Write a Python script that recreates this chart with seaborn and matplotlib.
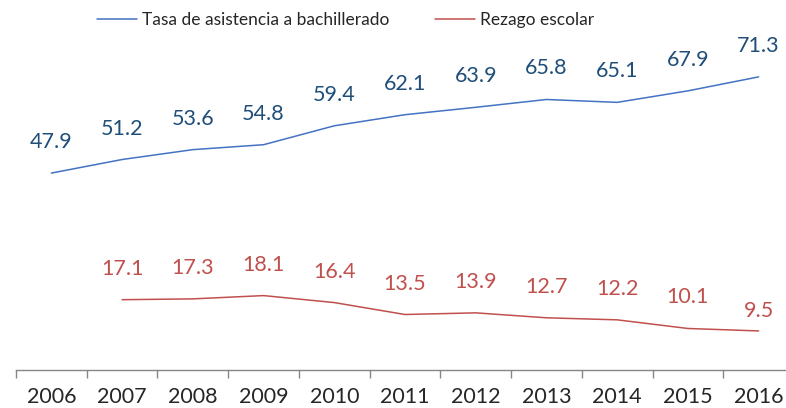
import numpy as np
import pandas as pd
import matplotlib
matplotlib.use('Agg')
import matplotlib.pyplot as plt
import seaborn as sns

years = ['2006', '2007', '2008', '2009', '2010', '2011', '2012', '2013', '2014', '2015', '2016']
asistencia = [47.9, 51.2, 53.6, 54.8, 59.4, 62.1, 63.9, 65.8, 65.1, 67.9, 71.3]
rezago = [np.nan, 17.1, 17.3, 18.1, 16.4, 13.5, 13.9, 12.7, 12.2, 10.1, 9.5]
series_names = ['Tasa de asistencia a bachillerado', 'Rezago escolar']

sns.set_style('white')
plt.rcParams['font.family'] = ['Lato', 'DejaVu Sans']

line_colors = ['#4472C4', '#C0504D']
label_colors = ['#1F4E79', '#C0504D']

df = pd.DataFrame({
    'pos': list(range(len(years))) * 2,
    'valor': asistencia + rezago,
    'serie': [series_names[0]] * len(years) + [series_names[1]] * len(years),
})

fig = plt.figure(figsize=(7.86, 4.08), dpi=100)
ax = fig.add_axes([16 / 786, 38 / 408, 778 / 786, 370 / 408])
sns.lineplot(data=df, x='pos', y='valor', hue='serie', palette=line_colors,
             linewidth=1.1, ax=ax, legend=True)

# data labels above each point
for vals, col, name in zip([asistencia, rezago], label_colors, series_names):
    for i, v in enumerate(vals):
        if np.isnan(v):
            continue
        off = 31
        if name == 'Rezago escolar' and i == len(vals) - 1:
            off = 20
        ax.annotate(f'{v:.1f}', (i, v), xytext=(0, off), textcoords='offset pixels',
                    ha='center', va='center', fontsize=15.5, color=col)

ax.set_xlim(-0.5, len(years) - 0.5)
ax.set_ylim(0, 90)
ax.set_xlabel('')
ax.set_ylabel('')
ax.set_yticks([])

# category axis: tick marks between categories, labels centred
ax.set_xticks(np.arange(-0.5, len(years), 1.0))
ax.set_xticklabels([])
ax.set_xticks(range(len(years)), minor=True)
ax.set_xticklabels(years, minor=True, fontsize=15.5)
ax.tick_params(axis='x', which='major', direction='out', length=6, width=1, color='#868686', bottom=True)
ax.tick_params(axis='x', which='minor', length=0, pad=12)

for s in ['top', 'right', 'left']:
    ax.spines[s].set_visible(False)
ax.spines['bottom'].set_color('#868686')
ax.spines['bottom'].set_linewidth(1)

handles, labels = ax.get_legend_handles_labels()
ax.legend(handles, labels, loc='center left', bbox_to_anchor=(90 / 786, 1 - 20 / 408),
          bbox_transform=fig.transFigure, ncol=2, frameon=False, fontsize=12.5,
          handlelength=2.3, handletextpad=0.3, columnspacing=2.6, borderaxespad=0)

plt.savefig('out.png', dpi=100)
